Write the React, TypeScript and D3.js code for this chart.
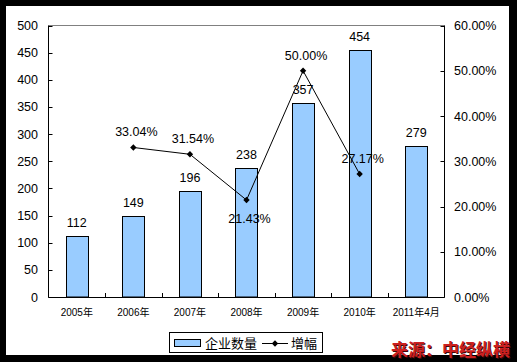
import React, { useEffect, useRef } from 'react'
import * as d3 from 'd3'

// Data
const categories = ['2005年', '2006年', '2007年', '2008年', '2009年', '2010年', '2011年4月']
const companyCounts = [112, 149, 196, 238, 357, 454, 279]
// growth rate, null where there is none
const growthRates: (number | null)[] = [null, 0.3304, 0.3154, 0.2143, 0.5, 0.2717, null]
const growthLabels = ['', '33.04%', '31.54%', '21.43%', '50.00%', '27.17%', '']
const leftTicks = [0, 50, 100, 150, 200, 250, 300, 350, 400, 450, 500]
const rightTicks = [0, 0.1, 0.2, 0.3, 0.4, 0.5, 0.6]

const latin = '"Liberation Sans", Arial, "Noto Sans CJK SC", sans-serif'
const cjk = '"Liberation Sans", "Noto Sans CJK SC", sans-serif'

export default function App() {
    const ref = useRef<SVGSVGElement>(null)

    useEffect(() => {
        const width = 517
        const height = 362
        const left = 48.5
        const right = 444.5
        const top = 25.5
        const bottom = 297

        const svg = d3.select(ref.current)
        svg.selectAll('*').remove()

        // Black frame with white card
        svg.append('rect').attr('x', 0).attr('y', 0).attr('width', width).attr('height', height).style('fill', '#000')
        svg.append('rect').attr('x', 6).attr('y', 6).attr('width', 503).attr('height', 349).style('fill', '#fff')

        // Scales
        const x = d3.scaleBand<string>().domain(categories).range([left, right])
        const yLeft = d3.scaleLinear().domain([0, 500]).range([bottom, top])
        const yRight = d3.scaleLinear().domain([0, 0.6]).range([bottom, top])
        const barWidth = x.bandwidth() * 0.39
        const cx = (c: string) => (x(c) as number) + x.bandwidth() / 2

        // Plot frame: grey top
        svg.append('line')
            .attr('x1', left).attr('x2', right).attr('y1', top).attr('y2', top)
            .style('stroke', '#808080')

        // Bars
        svg.selectAll('rect.bar')
            .data(companyCounts)
            .enter()
            .append('rect')
            .attr('class', 'bar')
            .attr('x', (d, i) => Math.round(cx(categories[i]) - barWidth / 2) + 0.5)
            .attr('y', d => Math.round(yLeft(d)) + 0.5)
            .attr('width', Math.round(barWidth))
            .attr('height', d => bottom - Math.round(yLeft(d)) - 0.5)
            .attr('fill', '#99ccff')
            .attr('stroke', '#000')
            .attr('stroke-width', 1)

        // Bar value labels
        svg.selectAll('text.barlabel')
            .data(companyCounts)
            .enter()
            .append('text')
            .attr('class', 'barlabel')
            .text(d => d)
            .attr('x', (d, i) => cx(categories[i]))
            .attr('y', d => yLeft(d) - 9)
            .attr('text-anchor', 'middle')
            .attr('font-family', latin)
            .attr('font-size', '12.5px')
            .attr('fill', '#000')

        // Axes lines
        svg.append('line')
            .attr('x1', left).attr('x2', left).attr('y1', top).attr('y2', bottom + 0.5)
            .style('stroke', '#000')
        svg.append('line')
            .attr('x1', right).attr('x2', right).attr('y1', top).attr('y2', bottom + 0.5)
            .style('stroke', '#000')
        svg.append('line')
            .attr('x1', left).attr('x2', right).attr('y1', bottom + 0.5).attr('y2', bottom + 0.5)
            .style('stroke', '#000')

        // Left ticks (inward) and labels
        leftTicks.forEach(t => {
            const y = Math.round(yLeft(t)) + 0.5
            svg.append('line')
                .attr('x1', left).attr('x2', left + 4).attr('y1', y).attr('y2', y)
                .style('stroke', '#000')
            svg.append('text')
                .text(t)
                .attr('x', 38)
                .attr('y', yLeft(t))
                .attr('dy', '0.36em')
                .attr('text-anchor', 'end')
                .attr('font-family', latin)
                .attr('font-size', '12.5px')
                .attr('fill', '#000')
        })

        // Right ticks (inward) and labels
        rightTicks.forEach(t => {
            const y = Math.round(yRight(t)) + 0.5
            svg.append('line')
                .attr('x1', right - 4).attr('x2', right).attr('y1', y).attr('y2', y)
                .style('stroke', '#000')
            svg.append('text')
                .text(d3.format('.2%')(t))
                .attr('x', 454)
                .attr('y', yRight(t))
                .attr('dy', '0.36em')
                .attr('font-family', latin)
                .attr('font-size', '12.5px')
                .attr('fill', '#000')
        })

        // Category ticks (inward) and labels
        categories.forEach((c, i) => {
            const xt = Math.round(x(c) as number) + 0.5
            if (i > 0) {
                svg.append('line')
                    .attr('x1', xt).attr('x2', xt).attr('y1', bottom - 4).attr('y2', bottom)
                    .style('stroke', '#000')
            }
            svg.append('text')
                .text(c)
                .attr('x', cx(c))
                .attr('y', 316)
                .attr('text-anchor', 'middle')
                .attr('font-family', cjk)
                .attr('font-size', '10px')
                .attr('fill', '#000')
        })

        // Growth line
        const points = categories
            .map((c, i) => ({ c, v: growthRates[i], label: growthLabels[i] }))
            .filter(p => p.v !== null) as { c: string, v: number, label: string }[]

        const line = d3.line<{ c: string, v: number }>()
            .x(p => cx(p.c))
            .y(p => yRight(p.v))
        svg.append('path')
            .attr('d', line(points))
            .attr('fill', 'none')
            .attr('stroke', '#000')
            .attr('stroke-width', 1)

        const diamond = d3.symbol().type(d3.symbolDiamond2).size(26)
        svg.selectAll('path.marker')
            .data(points)
            .enter()
            .append('path')
            .attr('class', 'marker')
            .attr('d', diamond())
            .attr('transform', p => `translate(${cx(p.c)},${yRight(p.v)})`)
            .attr('fill', '#000')

        // Growth labels: above, except the dip in 2008 which sits below
        svg.selectAll('text.growthlabel')
            .data(points)
            .enter()
            .append('text')
            .attr('class', 'growthlabel')
            .text(p => p.label)
            .attr('x', p => cx(p.c) + 3)
            .attr('y', p => p.c === '2008年' ? yRight(p.v) + 23 : yRight(p.v) - 11)
            .attr('text-anchor', 'middle')
            .attr('font-family', latin)
            .attr('font-size', '12.5px')
            .attr('fill', '#000')

        // Legend
        const lg = svg.append('g')
        lg.append('rect')
            .attr('x', 169.5).attr('y', 332.5).attr('width', 153).attr('height', 20)
            .attr('fill', '#fff').attr('stroke', '#000')
        lg.append('rect')
            .attr('x', 174.5).attr('y', 339.5).attr('width', 26).attr('height', 7)
            .attr('fill', '#99ccff').attr('stroke', '#000')
        lg.append('text')
            .text('企业数量')
            .attr('x', 205).attr('y', 348)
            .attr('font-family', cjk).attr('font-size', '13px').attr('fill', '#000')
        lg.append('line')
            .attr('x1', 262).attr('x2', 288).attr('y1', 343.5).attr('y2', 343.5)
            .style('stroke', '#000')
        lg.append('path')
            .attr('d', diamond())
            .attr('transform', 'translate(275,343.5)')
            .attr('fill', '#000')
        lg.append('text')
            .text('增幅')
            .attr('x', 291).attr('y', 348)
            .attr('font-family', cjk).attr('font-size', '13px').attr('fill', '#000')

        // Source watermark
        const src = '来源：中经纵横'
        svg.append('text')
            .text(src)
            .attr('x', 511).attr('y', 357)
            .attr('text-anchor', 'end')
            .attr('font-family', '"Noto Sans CJK SC", sans-serif')
            .attr('font-weight', 'bold')
            .attr('font-size', '17px')
            .attr('fill', '#3a0a0a')
        svg.append('text')
            .text(src)
            .attr('x', 510).attr('y', 356)
            .attr('text-anchor', 'end')
            .attr('font-family', '"Noto Sans CJK SC", sans-serif')
            .attr('font-weight', 'bold')
            .attr('font-size', '17px')
            .attr('fill', '#cc2020')
    }, [])

    return (
        <svg ref={ref} width={517} height={362}
            style={{ position: 'absolute', left: 0, top: 0, display: 'block', background: '#000' }} />
    )
}
